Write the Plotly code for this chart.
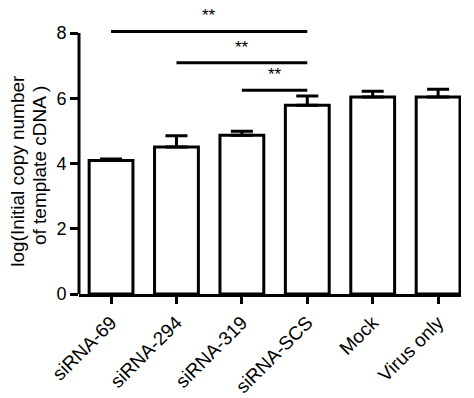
import plotly.graph_objects as go

categories = ["siRNA-69", "siRNA-294", "siRNA-319", "siRNA-SCS", "Mock", "Virus only"]
means = [4.09, 4.51, 4.87, 5.79, 6.04, 6.04]
sds = [0.05, 0.34, 0.12, 0.28, 0.18, 0.24]

# significance comparisons: (start category, end category, bracket height, label)
sig_start = ["siRNA-69", "siRNA-294", "siRNA-319"]
sig_end = ["siRNA-SCS", "siRNA-SCS", "siRNA-SCS"]
sig_y = [8.05, 7.09, 6.25]
sig_label = ["**", "**", "**"]

y_ticks = [0, 2, 4, 6, 8]
y_title_lines = ["log(Initial copy number", "of template cDNA )"]

FONT = "Liberation Sans, Arial, sans-serif"

fig = go.Figure()
fig.add_trace(go.Bar(
    x=categories, y=means, width=0.67,
    marker=dict(color="white", line=dict(color="black", width=3)),
    error_y=dict(type="data", array=sds, arrayminus=[0] * len(sds), symmetric=False,
                 color="black", thickness=3, width=11),
    showlegend=False,
))

idx = {c: i for i, c in enumerate(categories)}
shapes = [dict(type="line", xref="paper", yref="y", x0=0, x1=0, y0=0, y1=8,
               line=dict(color="black", width=3))]
annotations = []
for s, e, yv, lab in zip(sig_start, sig_end, sig_y, sig_label):
    shapes.append(dict(type="line", xref="x", yref="y", x0=idx[s], x1=idx[e], y0=yv, y1=yv,
                       line=dict(color="black", width=3)))
    annotations.append(dict(x=(idx[s] + idx[e]) / 2, y=yv, xref="x", yref="y", text=lab,
                            showarrow=False, yanchor="bottom", yshift=4,
                            font=dict(family=FONT, size=17, color="black")))

for txt, xp, yp in zip(y_title_lines, [-0.160, -0.102], [0.429, 0.446]):
    annotations.append(dict(x=xp, y=yp, xref="paper", yref="paper", text=txt,
                            textangle=-90, showarrow=False, xanchor="center", yanchor="middle",
                            font=dict(family=FONT, size=19, color="black")))

fig.update_layout(
    width=474, height=398,
    margin=dict(l=79, r=13, t=7, b=104, autoexpand=False),
    plot_bgcolor="white", paper_bgcolor="white",
    font=dict(family=FONT, color="black"),
    shapes=shapes, annotations=annotations,
    xaxis=dict(range=[-0.49, 5.35], showline=True, linecolor="black", linewidth=3,
               ticks="outside", ticklen=7, tickwidth=3, tickcolor="black",
               tickangle=-45, tickfont=dict(size=19, family=FONT, color="black"),
               showgrid=False, zeroline=False, automargin=False),
    yaxis=dict(range=[0, 8.8], tickvals=y_ticks, showline=False,
               ticks="outside", ticklen=8, tickwidth=3, tickcolor="black",
               tickfont=dict(size=18, family=FONT, color="black"),
               showgrid=False, zeroline=False, automargin=False),
)

fig.write_html("out.html", config={"displayModeBar": False},
               post_script="document.body.style.margin='0px';")
